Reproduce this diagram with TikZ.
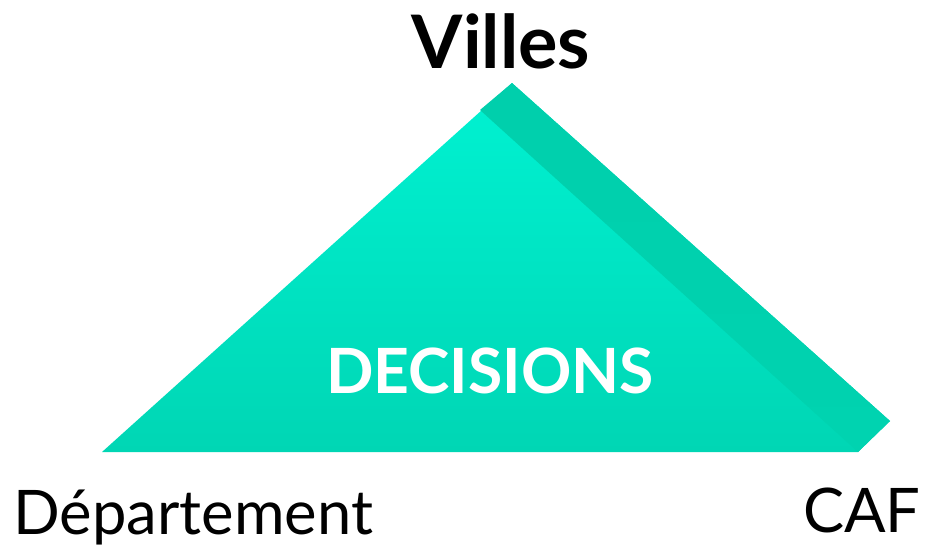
\documentclass[tikz,border=0pt]{standalone}
\usepackage{fontspec}
\setmainfont{Lato}
\definecolor{faceTop}{HTML}{00F2D2}
\definecolor{faceBot}{HTML}{00D6B4}
\definecolor{bandTop}{HTML}{00CFAC}
\definecolor{bandBot}{HTML}{00D3B0}

\begin{document}
\begin{tikzpicture}[x=0.2mm,y=-0.2mm,
  every node/.style={inner sep=0,anchor=base},
  corner/.style={font=\fontsize{35}{40}\selectfont}]
\useasboundingbox (0,0) rectangle (928,546);

\coordinate (apex) at (512,83);
\coordinate (east) at (890,421);
\coordinate (se) at (858,452);
\coordinate (sw) at (102,452);
\coordinate (ridge) at (480,110);

\shade[top color=faceTop,bottom color=faceBot] (apex) -- (east) -- (se) -- (sw) -- cycle;
\shade[top color=bandTop,bottom color=bandBot] (apex) -- (east) -- (se) -- (ridge) -- cycle;

\node[font=\bfseries\fontsize{42}{48}\selectfont] (villes) at (501,68) {Villes};
\node[font=\bfseries\fontsize{35.5}{40}\selectfont,text=white] (decisions) at (490,393) {DECISIONS};
\node[corner,anchor=base west] (dept) at (13,534) {Département};
\node[corner,anchor=base east] (caf) at (921,532) {CAF};
\end{tikzpicture}
\end{document}
